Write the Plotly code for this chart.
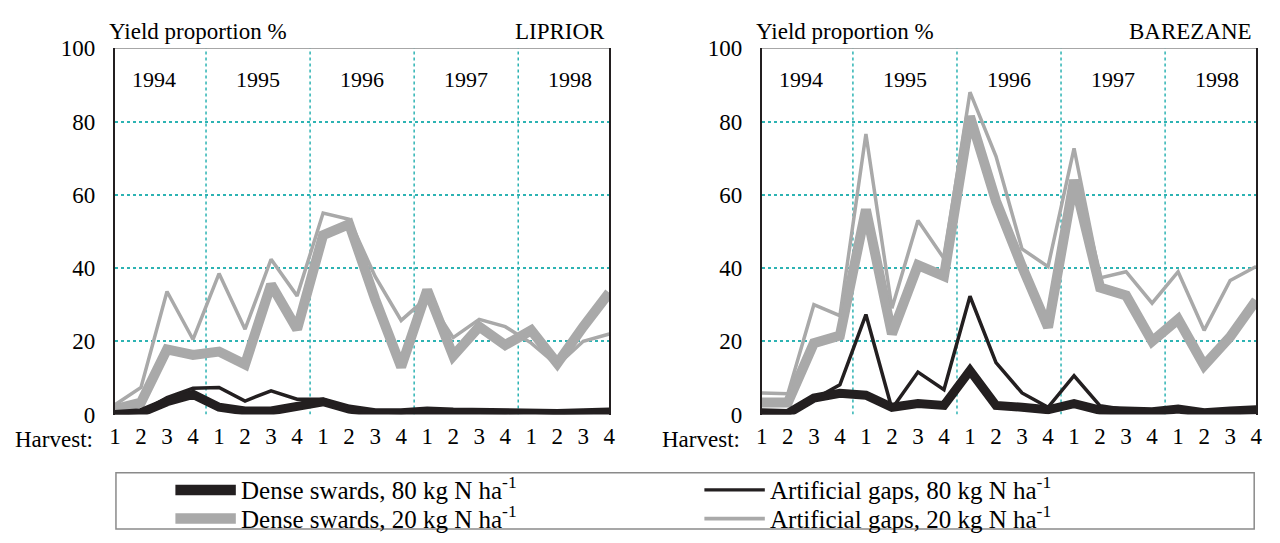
import plotly.graph_objects as go

# ---------------- data ----------------
harvest_labels = ["1", "2", "3", "4"] * 5
years = ["1994", "1995", "1996", "1997", "1998"]
y_ticks = [0, 20, 40, 60, 80, 100]
panels = ["LIPRIOR", "BAREZANE"]
series_names = [
    "Dense swards, 80 kg N ha<sup>-1</sup>",
    "Artificial gaps, 80 kg N ha<sup>-1</sup>",
    "Dense swards, 20 kg N ha<sup>-1</sup>",
    "Artificial gaps, 20 kg N ha<sup>-1</sup>",
]

# LIPRIOR
lip_dense_80 = [0.0, 0.5, 3.5, 5.5, 2.0, 1.0, 1.0, 2.0, 3.5, 1.5, 0.5, 0.5, 1.0, 0.7, 0.5, 0.5, 0.7, 0.3, 0.5, 0.7]
lip_gaps_80 = [0.0, 0.7, 4.6, 7.2, 7.4, 3.7, 6.5, 4.2, 4.2, 1.7, 0.8, 0.5, 1.2, 0.8, 0.6, 0.5, 0.7, 0.3, 0.6, 0.8]
lip_dense_20 = [1.5, 3.3, 17.8, 16.3, 17.2, 13.7, 35.5, 23.3, 49.0, 52.0, 31.5, 13.0, 34.0, 16.0, 24.0, 19.0, 23.0, 14.0, 24.0, 33.3]
lip_gaps_20 = [2.7, 7.4, 33.6, 20.5, 38.5, 23.3, 42.4, 32.4, 55.0, 53.3, 37.7, 25.7, 32.0, 21.0, 26.0, 24.0, 19.5, 13.5, 20.0, 22.0]

# BAREZANE
bar_dense_80 = [0.5, 0.3, 4.5, 5.8, 5.3, 2.0, 3.0, 2.5, 12.0, 2.5, 2.0, 1.3, 3.0, 1.2, 1.0, 0.8, 1.5, 0.5, 1.0, 1.3]
bar_gaps_80 = [0.3, 0.0, 4.2, 8.1, 27.3, 1.6, 11.6, 6.8, 32.3, 14.2, 5.9, 2.0, 10.6, 2.4, 1.3, 1.0, 1.8, 0.7, 1.3, 1.5]
bar_dense_20 = [3.3, 3.3, 19.5, 21.6, 56.0, 22.0, 40.8, 37.8, 81.4, 58.3, 40.4, 23.8, 64.0, 34.7, 32.5, 20.0, 26.0, 13.4, 21.2, 31.2]
bar_gaps_20 = [5.9, 5.7, 30.0, 27.0, 76.6, 29.0, 53.0, 42.6, 88.0, 70.5, 45.2, 40.4, 72.7, 37.3, 39.0, 30.4, 39.0, 23.0, 36.6, 40.4]

# ---------------- styling ----------------
W, H = 1280, 543
FONT = "Liberation Serif, Times New Roman, serif"
BLACK = "#231f20"
GRAY = "#a9a9a9"
TEAL = "#2db3b3"

def px(x):
    return x / W

def py(y):
    return (H - y) / H

x_vals = list(range(len(harvest_labels)))
styles = {
    "dense_80": dict(color=BLACK, width=9),
    "gaps_80": dict(color=BLACK, width=3.5),
    "dense_20": dict(color=GRAY, width=10),
    "gaps_20": dict(color=GRAY, width=3.5),
}

panel_data = [
    dict(dense_80=lip_dense_80, gaps_80=lip_gaps_80, dense_20=lip_dense_20, gaps_20=lip_gaps_20),
    dict(dense_80=bar_dense_80, gaps_80=bar_gaps_80, dense_20=bar_dense_20, gaps_20=bar_gaps_20),
]
domains = [(110, 609), (763, 1262)]
y_bottom_px, y_top_px = 422, 38

fig = go.Figure()
shapes = []
annotations = []

for p, (name, data, dom) in enumerate(zip(panels, panel_data, domains)):
    xa = "x" if p == 0 else "x2"
    ya = "y" if p == 0 else "y2"
    for key in ["dense_20", "gaps_20", "dense_80", "gaps_80"]:
        fig.add_trace(go.Scatter(
            x=x_vals, y=data[key], mode="lines",
            line=dict(color=styles[key]["color"], width=styles[key]["width"]),
            xaxis=xa, yaxis=ya, showlegend=False, hoverinfo="skip",
        ))
    axname = "xaxis" if p == 0 else "xaxis2"
    ayname = "yaxis" if p == 0 else "yaxis2"
    fig.update_layout(**{
        axname: dict(
            domain=[px(dom[0]), px(dom[1])], anchor=ya,
            range=[0, len(harvest_labels) - 1],
            tickmode="array", tickvals=x_vals, ticktext=harvest_labels,
            showgrid=False, zeroline=False, showline=False,
            ticks="", ticklabelstandoff=5,
            tickfont=dict(family=FONT, size=23, color="black"),
        ),
        ayname: dict(
            domain=[py(y_bottom_px), py(y_top_px)], anchor=xa,
            range=[0, 100], tickmode="array", tickvals=y_ticks,
            showgrid=True, gridcolor=TEAL, griddash="dot", gridwidth=1.5,
            zeroline=False, showline=True, linecolor=BLACK, linewidth=2, mirror=True,
            ticks="", ticklabelstandoff=13,
            tickfont=dict(family=FONT, size=23, color="black"),
        ),
    })
    # top border line
    shapes.append(dict(type="line", xref=xa, yref=ya, x0=0, x1=len(harvest_labels) - 1,
                       y0=100, y1=100, line=dict(color="#8a8a8a", width=1.5), layer="below"))
    # year boundaries
    for k in range(1, len(years)):
        xb = 4 * k - 0.5
        shapes.append(dict(type="line", xref=xa, yref=ya, x0=xb, x1=xb, y0=0, y1=100,
                           line=dict(color=TEAL, width=1.5, dash="dot"), layer="below"))
    # year labels
    for k, yr in enumerate(years):
        annotations.append(dict(xref=xa, yref=ya, x=4 * k + 1.5, y=91.4, text=yr,
                                showarrow=False, font=dict(family=FONT, size=22, color="black")))
    # titles
    annotations.append(dict(xref="paper", yref="paper", x=px(dom[0] - 8), y=py(20),
                            xanchor="left", yanchor="middle", text="Yield proportion %",
                            showarrow=False, font=dict(family=FONT, size=23, color="black")))
    annotations.append(dict(xref="paper", yref="paper", x=px(dom[1] - 2), y=py(20),
                            xanchor="right", yanchor="middle", text=name,
                            showarrow=False, font=dict(family=FONT, size=23, color="black")))
    annotations.append(dict(xref="paper", yref="paper", x=px(dom[0] - 20), y=py(448),
                            xanchor="right", yanchor="middle", text="Harvest:",
                            showarrow=False, font=dict(family=FONT, size=23, color="black")))

# ---------------- legend (manual) ----------------
shapes.append(dict(type="rect", xref="paper", yref="paper", x0=px(111), x1=px(1260),
                   y0=py(542), y1=py(483), line=dict(color="#8a8a8a", width=1.5),
                   fillcolor="white", layer="above"))
legend_items = [
    ("dense_80", 171, 232, 501, 11),
    ("dense_20", 171, 232, 531, 11),
    ("gaps_80", 705, 766, 501, 3.5),
    ("gaps_20", 705, 766, 531, 4),
]
legend_keys = ["dense_80", "gaps_80", "dense_20", "gaps_20"]
for key, x0, x1, yc, h in legend_items:
    shapes.append(dict(type="rect", xref="paper", yref="paper",
                       x0=px(x0), x1=px(x1), y0=py(yc + h / 2), y1=py(yc - h / 2),
                       fillcolor=styles[key]["color"], line=dict(width=0), layer="above"))
    annotations.append(dict(xref="paper", yref="paper", x=px(x1 + 3), y=py(yc - 2),
                            xanchor="left", yanchor="middle",
                            text=series_names[legend_keys.index(key)], showarrow=False,
                            font=dict(family=FONT, size=25, color="black")))

fig.update_layout(
    width=W, height=H, margin=dict(l=0, r=0, t=0, b=0),
    paper_bgcolor="white", plot_bgcolor="white",
    shapes=shapes, annotations=annotations, showlegend=False,
    font=dict(family=FONT, color="black"),
)

fig.write_html(
    "out.html",
    config={"displayModeBar": False},
    post_script="document.body.style.margin='0px';document.body.style.overflow='hidden';",
)
